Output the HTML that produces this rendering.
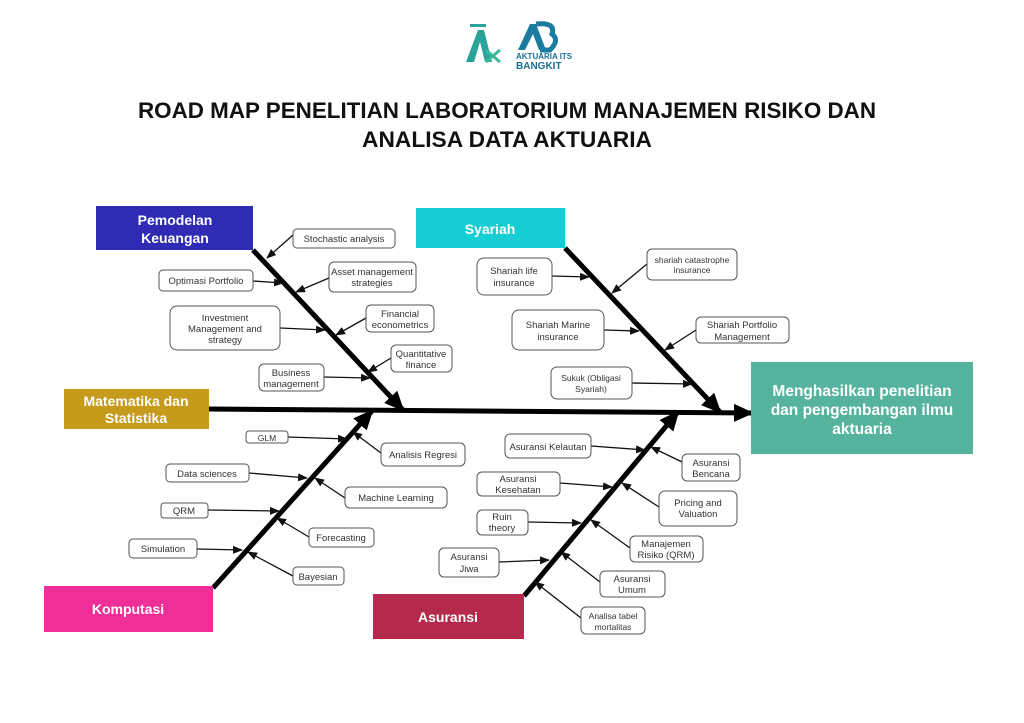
<!DOCTYPE html>
<html><head><meta charset="utf-8"><style>
html,body{margin:0;padding:0;background:#fff;}
svg{display:block;font-family:"Liberation Sans",sans-serif;}
.sb{fill:#fff;stroke:#555;stroke-width:1;}
.st{font-size:9.5px;fill:#333;text-anchor:middle;}
.bt{font-size:14px;font-weight:bold;fill:#fff;text-anchor:middle;}
.thin{stroke:#111;stroke-width:1.3;marker-end:url(#sa);}
.bone{stroke:#000;stroke-width:5;marker-end:url(#ba);}
</style></head><body>
<svg width="1024" height="723" viewBox="0 0 1024 723">
<defs>
<marker id="sa" markerWidth="10" markerHeight="8" refX="9" refY="4" orient="auto" markerUnits="userSpaceOnUse"><path d="M0,0 L10,4 L0,8 z" fill="#111"/></marker>
<marker id="ba" markerWidth="20" markerHeight="18" refX="18" refY="9" orient="auto" markerUnits="userSpaceOnUse"><path d="M0,0 L20,9 L0,18 z" fill="#000"/></marker>
</defs>
<!-- logos -->
<g>
<path d="M466,62 L478,30 L484,30 L492,62 L485,62 L480,42 L474,62 z" fill="#2aa39a"/>
<rect x="470" y="24" width="16" height="3" fill="#2aa39a"/>
<path d="M486,50 L500,62 M500,50 L486,62" stroke="#3bb89a" stroke-width="3"/>
<path d="M518,50 L530,24 L536,24 L546,50 L539,50 L533,34 L525,50 z" fill="#1b7ca0"/>
<path d="M536,24 Q556,22 552,34 Q560,40 550,50 L540,50" fill="none" stroke="#1b7ca0" stroke-width="5"/>
<text x="516" y="59" font-size="8" font-weight="bold" fill="#1b6f96">AKTUARIA ITS</text>
<text x="516" y="69" font-size="10" font-weight="bold" fill="#1b6f96">BANGKIT</text>
</g>
<text x="507" y="118" font-size="22" font-weight="bold" text-anchor="middle" fill="#111" textLength="738" lengthAdjust="spacingAndGlyphs">ROAD MAP PENELITIAN LABORATORIUM MANAJEMEN RISIKO DAN</text>
<text x="507" y="147" font-size="22" font-weight="bold" text-anchor="middle" fill="#111" textLength="290" lengthAdjust="spacingAndGlyphs">ANALISA DATA AKTUARIA</text>

<!-- bones -->
<line x1="209" y1="409" x2="752" y2="413" class="bone"/>
<line x1="253" y1="250" x2="403" y2="410" class="bone"/>
<line x1="565" y1="248" x2="720" y2="412" class="bone"/>
<line x1="213" y1="588" x2="372" y2="411" class="bone"/>
<line x1="524" y1="596" x2="678" y2="412" class="bone"/>

<!-- big boxes -->
<rect x="96" y="206" width="157" height="44" fill="#2f2bb5"/>
<text class="bt" x="175" y="225">Pemodelan</text><text class="bt" x="175" y="243" text-anchor="middle">Keuangan</text>
<rect x="416" y="208" width="149" height="40" fill="#17cdd4"/>
<text class="bt" x="490" y="234">Syariah</text>
<rect x="64" y="389" width="145" height="40" fill="#c69a1a"/>
<text class="bt" x="136" y="406">Matematika dan</text><text class="bt" x="136" y="423">Statistika</text>
<rect x="44" y="586" width="169" height="46" fill="#ee2f98"/>
<text class="bt" x="128" y="614">Komputasi</text>
<rect x="373" y="594" width="151" height="45" fill="#b5294d"/>
<text class="bt" x="448" y="622">Asuransi</text>
<rect x="751" y="362" width="222" height="92" fill="#55b39e"/>
<text class="bt" x="862" y="396" style="font-size:15.5px">Menghasilkan penelitian</text>
<text class="bt" x="862" y="415" style="font-size:15.5px">dan pengembangan ilmu</text>
<text class="bt" x="862" y="434" style="font-size:15.5px">aktuaria</text>

<!-- arrows -->
<g>
<line class="thin" x1="293" y1="235" x2="267" y2="258"/>
<line class="thin" x1="253" y1="281" x2="283" y2="283"/>
<line class="thin" x1="329" y1="278" x2="296" y2="292"/>
<line class="thin" x1="280" y1="328" x2="325" y2="330"/>
<line class="thin" x1="366" y1="318" x2="336" y2="335"/>
<line class="thin" x1="391" y1="358" x2="368" y2="372"/>
<line class="thin" x1="324" y1="377" x2="370" y2="378"/>

<line class="thin" x1="288" y1="437" x2="347" y2="439"/>
<line class="thin" x1="381" y1="453" x2="353" y2="432"/>
<line class="thin" x1="249" y1="473" x2="307" y2="478"/>
<line class="thin" x1="345" y1="498" x2="315" y2="478"/>
<line class="thin" x1="208" y1="510" x2="279" y2="511"/>
<line class="thin" x1="309" y1="537" x2="277" y2="518"/>
<line class="thin" x1="197" y1="549" x2="242" y2="550"/>
<line class="thin" x1="293" y1="576" x2="248" y2="552"/>

<line class="thin" x1="591" y1="446" x2="645" y2="450"/>
<line class="thin" x1="682" y1="462" x2="651" y2="447"/>
<line class="thin" x1="560" y1="483" x2="612" y2="487"/>
<line class="thin" x1="659" y1="507" x2="622" y2="483"/>
<line class="thin" x1="528" y1="522" x2="581" y2="523"/>
<line class="thin" x1="630" y1="548" x2="591" y2="520"/>
<line class="thin" x1="499" y1="562" x2="549" y2="560"/>
<line class="thin" x1="600" y1="582" x2="561" y2="552"/>
<line class="thin" x1="581" y1="618" x2="535" y2="582"/>

<line class="thin" x1="552" y1="276" x2="589" y2="277"/>
<line class="thin" x1="647" y1="264" x2="612" y2="293"/>
<line class="thin" x1="604" y1="330" x2="639" y2="331"/>
<line class="thin" x1="696" y1="330" x2="665" y2="350"/>
<line class="thin" x1="632" y1="383" x2="692" y2="384"/>
</g>

<!-- small boxes -->
<g>
<rect class="sb" x="293" y="229" width="102" height="19" rx="4"/><text class="st" x="344" y="242">Stochastic analysis</text>
<rect class="sb" x="159" y="270" width="94" height="21" rx="4"/><text class="st" x="206" y="284">Optimasi Portfolio</text>
<rect class="sb" x="329" y="262" width="87" height="30" rx="5"/><text class="st" x="372" y="275">Asset management</text><text class="st" x="372" y="286">strategies</text>
<rect class="sb" x="170" y="306" width="110" height="44" rx="7"/><text class="st" x="225" y="321">Investment</text><text class="st" x="225" y="332">Management and</text><text class="st" x="225" y="343">strategy</text>
<rect class="sb" x="366" y="305" width="68" height="27" rx="5"/><text class="st" x="400" y="317">Financial</text><text class="st" x="400" y="328">econometrics</text>
<rect class="sb" x="391" y="345" width="61" height="27" rx="5"/><text class="st" x="421" y="357">Quantitative</text><text class="st" x="421" y="368">finance</text>
<rect class="sb" x="259" y="364" width="65" height="27" rx="5"/><text class="st" x="291" y="376">Business</text><text class="st" x="291" y="387">management</text>

<rect class="sb" x="246" y="431" width="42" height="12" rx="3"/><text class="st" x="267" y="441" style="font-size:8.5px">GLM</text>
<rect class="sb" x="381" y="443" width="84" height="23" rx="5"/><text class="st" x="423" y="458">Analisis Regresi</text>
<rect class="sb" x="166" y="464" width="83" height="18" rx="4"/><text class="st" x="207" y="477">Data sciences</text>
<rect class="sb" x="345" y="487" width="102" height="21" rx="5"/><text class="st" x="396" y="501">Machine Learning</text>
<rect class="sb" x="161" y="503" width="47" height="15" rx="3"/><text class="st" x="184" y="514">QRM</text>
<rect class="sb" x="309" y="528" width="65" height="19" rx="4"/><text class="st" x="341" y="541">Forecasting</text>
<rect class="sb" x="129" y="539" width="68" height="19" rx="4"/><text class="st" x="163" y="552">Simulation</text>
<rect class="sb" x="293" y="567" width="51" height="18" rx="4"/><text class="st" x="318" y="580">Bayesian</text>

<rect class="sb" x="505" y="434" width="86" height="24" rx="5"/><text class="st" x="548" y="450">Asuransi Kelautan</text>
<rect class="sb" x="682" y="454" width="58" height="27" rx="5"/><text class="st" x="711" y="466">Asuransi</text><text class="st" x="711" y="477">Bencana</text>
<rect class="sb" x="477" y="472" width="83" height="24" rx="5"/><text class="st" x="518" y="482">Asuransi</text><text class="st" x="518" y="493">Kesehatan</text>
<rect class="sb" x="659" y="491" width="78" height="35" rx="6"/><text class="st" x="698" y="506">Pricing and</text><text class="st" x="698" y="517">Valuation</text>
<rect class="sb" x="477" y="510" width="51" height="25" rx="5"/><text class="st" x="502" y="520">Ruin</text><text class="st" x="502" y="531">theory</text>
<rect class="sb" x="630" y="536" width="73" height="26" rx="5"/><text class="st" x="666" y="547">Manajemen</text><text class="st" x="666" y="558">Risiko (QRM)</text>
<rect class="sb" x="439" y="548" width="60" height="29" rx="5"/><text class="st" x="469" y="560">Asuransi</text><text class="st" x="469" y="572">Jiwa</text>
<rect class="sb" x="600" y="571" width="65" height="26" rx="5"/><text class="st" x="632" y="582">Asuransi</text><text class="st" x="632" y="593">Umum</text>
<rect class="sb" x="581" y="607" width="64" height="27" rx="5"/><text class="st" x="613" y="619" style="font-size:8.5px">Analisa tabel</text><text class="st" x="613" y="630" style="font-size:8.5px">mortalitas</text>

<rect class="sb" x="477" y="258" width="75" height="37" rx="7"/><text class="st" x="514" y="274">Shariah life</text><text class="st" x="514" y="286">insurance</text>
<rect class="sb" x="647" y="249" width="90" height="31" rx="5"/><text class="st" x="692" y="263" style="font-size:8.5px">shariah catastrophe</text><text class="st" x="692" y="273" style="font-size:8.5px">insurance</text>
<rect class="sb" x="512" y="310" width="92" height="40" rx="7"/><text class="st" x="558" y="328">Shariah Marine</text><text class="st" x="558" y="340">insurance</text>
<rect class="sb" x="696" y="317" width="93" height="26" rx="5"/><text class="st" x="742" y="328">Shariah Portfolio</text><text class="st" x="742" y="340">Management</text>
<rect class="sb" x="551" y="367" width="81" height="32" rx="6"/><text class="st" x="591" y="381" style="font-size:8.5px">Sukuk (Obligasi</text><text class="st" x="591" y="392" style="font-size:8.5px">Syariah)</text>
</g>
</svg>
</body></html>
